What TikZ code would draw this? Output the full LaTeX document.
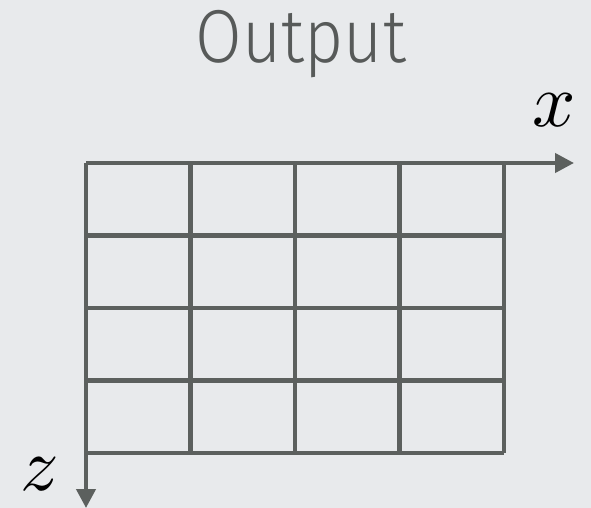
\documentclass[tikz,border=0pt]{standalone}
\usepackage{fontspec}
\usepackage{graphicx}
\newfontfamily\titlefont{Fira Sans Light}
\usetikzlibrary{arrows.meta}
\definecolor{bg}{HTML}{E8EAEC}
\definecolor{gridc}{HTML}{5C605E}
\definecolor{textc}{HTML}{575A59}
\begin{document}
\begin{tikzpicture}[x=1pt,y=-1pt,
  gridline/.style={draw=gridc,line width=4.2pt},
  axis/.style={draw=gridc,line width=4.2pt,-{Triangle[length=19pt,width=19pt]}},
  axlabel/.style={inner sep=0pt}]
\fill[bg] (0,0) rectangle (591,508);
\useasboundingbox (0,0) rectangle (591,508);
% grid
\foreach \xx in {86,190.5,295,399.5,504}
  \draw[gridline] (\xx,163) -- (\xx,453);
\foreach \yy in {163,235.5,308,380.5,453}
  \draw[gridline] (86,\yy) -- (504,\yy);
\coordinate (o) at (86,163);
\coordinate (xend) at (574,163);
\coordinate (zend) at (86,508);
\draw[axis] (o) -- (xend);
\draw[axis] (o) -- (zend);
\node[axlabel,anchor=base] (xl) at (554,126) {\scalebox{7.6}{$x$}};
\node[axlabel,anchor=base] (zl) at (40,490) {\scalebox{7.6}{$z$}};
\node[inner sep=0pt,anchor=base,text=textc,font=\titlefont\fontsize{75}{75}\selectfont] (title) at (301,63) {\scalebox{0.9}[1]{Output}};
\end{tikzpicture}
\end{document}
